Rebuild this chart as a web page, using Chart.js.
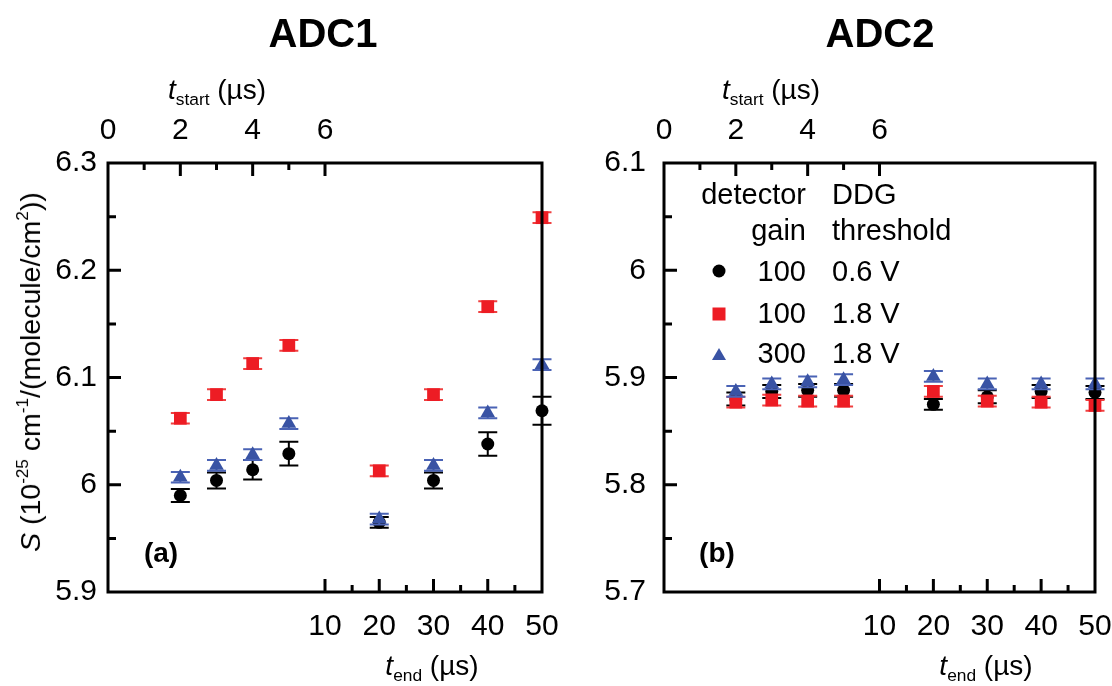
<!DOCTYPE html>
<html>
<head>
<meta charset="utf-8">
<script src="https://cdn.jsdelivr.net/npm/chart.js@4.4.1/dist/chart.umd.min.js"></script>
<style>
  body { margin: 0; background: #fff; }
  #wrap { position: relative; width: 1112px; height: 686px; font-family: 'Liberation Sans', Arial, sans-serif; color: #000; overflow: hidden; }
  canvas { position: absolute; top: 0; }
  .c { position: absolute; transform: translate(-50%, -50%); white-space: nowrap; }
  .r { position: absolute; transform: translateY(-50%); white-space: nowrap; text-align: right; }
  .l { position: absolute; transform: translateY(-50%); white-space: nowrap; }
  .title { font-size: 40px; font-weight: bold; }
  .axt { font-size: 28px; }
  .axt sub { font-size: 0.62em; vertical-align: -0.3em; }
  .tag { font-size: 28px; font-weight: bold; }
  .ytitle { font-size: 28.5px; transform: translate(-50%, -50%) rotate(-90deg); }
  .ytitle sup { font-size: 0.6em; vertical-align: 0.7em; }
  .leg { font-size: 29px; }
  .mk { position: absolute; transform: translate(-50%, -50%); }
</style>
</head>
<body>
<div id="wrap">
  <canvas id="adc1" width="600" height="686" style="left:0"></canvas>
  <canvas id="adc2" width="556" height="686" style="left:556px"></canvas>

  <div class="c title" style="left:323px;top:33px">ADC1</div>
  <div class="c title" style="left:880px;top:33px">ADC2</div>

  <div class="c axt" style="left:217px;top:92px"><i>t</i><sub>start</sub> (µs)</div>
  <div class="c axt" style="left:771px;top:92px"><i>t</i><sub>start</sub> (µs)</div>
  <div class="c axt" style="left:432px;top:668px"><i>t</i><sub>end</sub> (µs)</div>
  <div class="c axt" style="left:986px;top:668px"><i>t</i><sub>end</sub> (µs)</div>

  <div class="c ytitle" style="left:30px;top:372px"><i>S</i> (10<sup>-25</sup> cm<sup>-1</sup>/(molecule/cm<sup>2</sup>))</div>

  <div class="c tag" style="left:161px;top:553px">(a)</div>
  <div class="c tag" style="left:717px;top:553px">(b)</div>

  <div class="r leg" style="right:306px;top:194px">detector</div>
  <div class="l leg" style="left:832px;top:194px">DDG</div>
  <div class="r leg" style="right:306px;top:230px">gain</div>
  <div class="l leg" style="left:832px;top:230px">threshold</div>
  <div class="r leg" style="right:306px;top:271px">100</div>
  <div class="l leg" style="left:832px;top:271px">0.6 V</div>
  <div class="r leg" style="right:306px;top:313px">100</div>
  <div class="l leg" style="left:832px;top:313px">1.8 V</div>
  <div class="r leg" style="right:306px;top:353px">300</div>
  <div class="l leg" style="left:832px;top:353px">1.8 V</div>
  <div class="mk" style="left:719px;top:271px;width:13px;height:13px;border-radius:50%;background:#000"></div>
  <div class="mk" style="left:719px;top:314px;width:13px;height:13px;background:#ed1c24"></div>
  <div class="mk" style="left:719px;top:354px;width:0;height:0;border-left:7px solid transparent;border-right:7px solid transparent;border-bottom:12px solid #3953a4"></div>
</div>

<script>
// positions on the two broken x axes
const tStart = [2, 3, 4, 5];
const tEnd = [20, 30, 40, 50];
const tStartTicks = [0, 2, 4, 6];
const tEndTicks = [10, 20, 30, 40, 50];
const adc1Ticks = [5.9, 6.0, 6.1, 6.2, 6.3];
const adc2Ticks = [5.7, 5.8, 5.9, 6.0, 6.1];

// ADC1: first four at tStart, last four at tEnd
const adc1Gain100Low = [5.990, 6.004, 6.014, 6.029, 5.965, 6.004, 6.038, 6.069];
const adc1Gain100LowErr = [0.006, 0.0075, 0.009, 0.011, 0.005, 0.0075, 0.011, 0.013];
const adc1Gain100High = [6.062, 6.084, 6.113, 6.130, 6.013, 6.084, 6.166, 6.249];
const adc1Gain100HighErr = [0.005, 0.005, 0.005, 0.005, 0.005, 0.005, 0.005, 0.005];
const adc1Gain300High = [6.007, 6.018, 6.028, 6.057, 5.968, 6.018, 6.067, 6.112];
const adc1Gain300HighErr = [0.005, 0.005, 0.005, 0.005, 0.005, 0.005, 0.005, 0.005];

// ADC2
const adc2Gain100Low = [5.880, 5.887, 5.888, 5.888, 5.875, 5.882, 5.887, 5.886];
const adc2Gain100LowErr = [0.006, 0.006, 0.006, 0.006, 0.005, 0.006, 0.006, 0.006];
const adc2Gain100High = [5.877, 5.879, 5.878, 5.878, 5.887, 5.878, 5.877, 5.874];
const adc2Gain100HighErr = [0.005, 0.005, 0.005, 0.005, 0.005, 0.005, 0.005, 0.005];
const adc2Gain300High = [5.887, 5.894, 5.896, 5.898, 5.901, 5.894, 5.894, 5.894];
const adc2Gain300HighErr = [0.005, 0.005, 0.005, 0.005, 0.005, 0.005, 0.005, 0.005];

Chart.defaults.font.family = "'Liberation Sans', Arial, sans-serif";
Chart.defaults.font.size = 30;
Chart.defaults.color = '#000';

const series = [
    { color: '#000000', errColor: '#000000', style: 'circle', radius: 6.5, order: 2 },
    { color: '#ed1c24', errColor: '#f04040', style: 'rect', radius: 9, order: 1 },
    { color: '#3953a4', errColor: '#4a63b5', style: 'triangle', radius: 8.5, order: 0 }
];

const errorBars = {
    id: 'errorBars',
    beforeDatasetDraw(chart, args) {
        const ds = chart.data.datasets[args.index];
        if (!ds.errors) return;
        const ctx = chart.ctx;
        const y = chart.scales.y;
        ctx.save();
        ctx.strokeStyle = ds.errColor;
        ctx.lineWidth = 2;
        args.meta.data.forEach((pt, i) => {
            const v = ds.data[i].y;
            const top = y.getPixelForValue(v + ds.errors[i]);
            const bot = y.getPixelForValue(v - ds.errors[i]);
            ctx.beginPath();
            ctx.moveTo(pt.x, top); ctx.lineTo(pt.x, bot);
            ctx.moveTo(pt.x - 9.5, top); ctx.lineTo(pt.x + 9.5, top);
            ctx.moveTo(pt.x - 9.5, bot); ctx.lineTo(pt.x + 9.5, bot);
            ctx.stroke();
        });
        ctx.restore();
    }
};

const frameTicks = {
    id: 'frameTicks',
    afterDraw(chart, args, opts) {
        const { ctx, chartArea: a, scales } = chart;
        ctx.save();
        ctx.strokeStyle = '#000';
        ctx.lineWidth = 3;
        ctx.lineCap = 'butt';
        ctx.beginPath();
        opts.topMajor.forEach(v => { const x = scales.xTop.getPixelForValue(v); ctx.moveTo(x, a.top); ctx.lineTo(x, a.top + 13); });
        opts.topMinor.forEach(v => { const x = scales.xTop.getPixelForValue(v); ctx.moveTo(x, a.top); ctx.lineTo(x, a.top + 7); });
        opts.bottomMajor.forEach(v => { const x = scales.xBottom.getPixelForValue(v); ctx.moveTo(x, a.bottom); ctx.lineTo(x, a.bottom - 13); });
        opts.bottomMinor.forEach(v => { const x = scales.xBottom.getPixelForValue(v); ctx.moveTo(x, a.bottom); ctx.lineTo(x, a.bottom - 7); });
        opts.yMajor.forEach(v => { const yy = scales.y.getPixelForValue(v); ctx.moveTo(a.left, yy); ctx.lineTo(a.left + 13, yy); });
        opts.yMinor.forEach(v => { const yy = scales.y.getPixelForValue(v); ctx.moveTo(a.left, yy); ctx.lineTo(a.left + 8, yy); });
        ctx.stroke();
        ctx.strokeRect(a.left, a.top, a.right - a.left, a.bottom - a.top);
        ctx.restore();
    }
};

function buildDatasets(values, errors) {
    const sets = [];
    values.forEach((vals, k) => {
        const s = series[k];
        const base = {
            pointStyle: s.style,
            pointRadius: s.radius,
            backgroundColor: s.color,
            borderColor: s.color,
            borderWidth: 0,
            showLine: false,
            clip: false,
            order: s.order,
            errColor: s.errColor,
            yAxisID: 'y'
        };
        sets.push(Object.assign({}, base, {
            xAxisID: 'xTop',
            data: tStart.map((x, i) => ({ x: x, y: vals[i] })),
            errors: errors[k].slice(0, 4)
        }));
        sets.push(Object.assign({}, base, {
            xAxisID: 'xBottom',
            data: tEnd.map((x, i) => ({ x: x, y: vals[i + 4] })),
            errors: errors[k].slice(4)
        }));
    });
    return sets;
}

// keep the plot box fixed: no extra room for edge labels
function fixX(height) {
    return s => { s.height = height; s.paddingLeft = 0; s.paddingRight = 0; };
}

function renderPanel(id, values, errors, yTicks, yPad, rightPad, yMinor) {
    const ctx = document.getElementById(id).getContext('2d');
    new Chart(ctx, {
        type: 'scatter',
        data: { datasets: buildDatasets(values, errors) },
        options: {
            responsive: false,
            animation: false,
            events: [],
            layout: { padding: { left: 0, right: rightPad, top: 0, bottom: 0 } },
            plugins: {
                legend: { display: false },
                tooltip: { enabled: false },
                frameTicks: {
                    topMajor: [2, 4, 6], topMinor: [1, 3, 5],
                    bottomMajor: [10, 20, 30, 40], bottomMinor: [15, 25, 35, 45],
                    yMajor: yTicks.slice(1, -1), yMinor: yMinor
                }
            },
            scales: {
                xTop: {
                    type: 'linear', position: 'top', min: 0, max: 12,
                    afterBuildTicks: s => { s.ticks = tStartTicks.map(v => ({ value: v })); },
                    afterFit: fixX(163),
                    grid: { display: false, drawTicks: false },
                    border: { display: false },
                    ticks: { padding: 14, autoSkip: false, maxRotation: 0 }
                },
                xBottom: {
                    type: 'linear', position: 'bottom', min: -30, max: 50,
                    afterBuildTicks: s => { s.ticks = tEndTicks.map(v => ({ value: v })); },
                    afterFit: fixX(94),
                    grid: { display: false, drawTicks: false },
                    border: { display: false },
                    ticks: { padding: 17, autoSkip: false, maxRotation: 0 }
                },
                y: {
                    type: 'linear', position: 'left', min: yTicks[0], max: yTicks[yTicks.length - 1],
                    afterBuildTicks: s => { s.ticks = yTicks.map(v => ({ value: v })); },
                    afterFit: s => { s.width = 108; s.paddingTop = 0; s.paddingBottom = 0; },
                    grid: { display: false, drawTicks: false },
                    border: { display: false },
                    ticks: { padding: yPad, callback: v => String(Math.round(v * 10) / 10) }
                }
            }
        },
        plugins: [errorBars, frameTicks]
    });
}

renderPanel('adc1',
    [adc1Gain100Low, adc1Gain100High, adc1Gain300High],
    [adc1Gain100LowErr, adc1Gain100HighErr, adc1Gain300HighErr],
    adc1Ticks, 11, 58, [5.95, 6.05, 6.15, 6.25]);

renderPanel('adc2',
    [adc2Gain100Low, adc2Gain100High, adc2Gain300High],
    [adc2Gain100LowErr, adc2Gain100HighErr, adc2Gain300HighErr],
    adc2Ticks, 18, 17, [5.75, 5.85, 5.95, 6.05]);
</script>
</body>
</html>
